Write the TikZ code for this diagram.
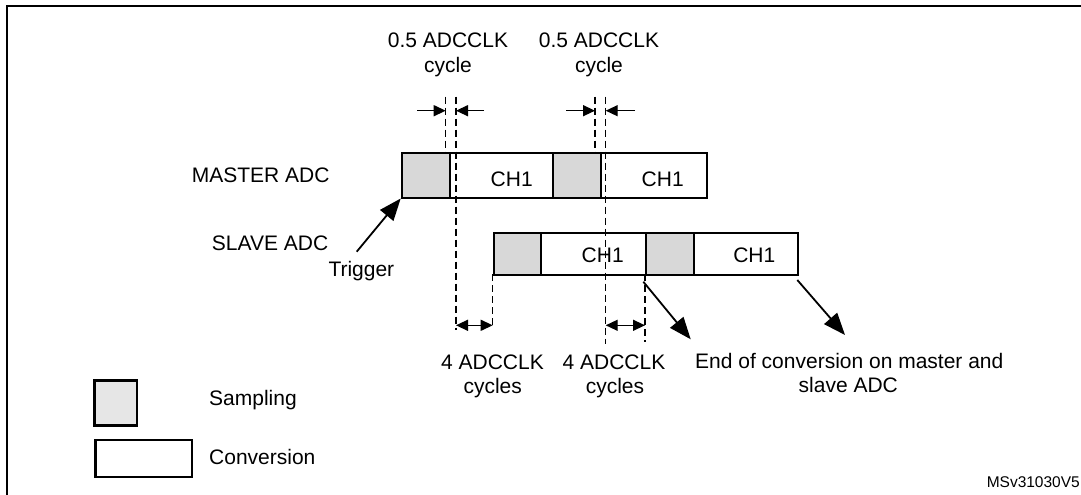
\documentclass[tikz,border=0pt]{standalone}
\usepackage{fontspec}
\setmainfont{Liberation Sans}
\usetikzlibrary{arrows.meta}
\definecolor{sampgray}{RGB}{216,216,216}
\definecolor{leggray}{RGB}{230,230,230}
\tikzset{
  bar/.style={draw=black, line width=1.8pt, inner sep=0pt, anchor=north west},
  sampbox/.style={bar, fill=sampgray},
  convbox/.style={bar, fill=white},
  lbl/.style={inner sep=0pt, font=\fontsize{21}{25}\selectfont, anchor=base},
  lbll/.style={lbl, anchor=base west},
  dashline/.style={line width=1.4pt, dash pattern=on 7pt off 4pt},
  dimarrow/.style={line width=1.4pt, -{Triangle[length=12pt,width=11pt]}},
  dimboth/.style={line width=1.4pt, {Triangle[length=12pt,width=11pt]}-{Triangle[length=12pt,width=11pt]}},
  bigarrow/.style={line width=1.8pt, -{Triangle[length=22pt,width=17pt]}},
}
\begin{document}
\begin{tikzpicture}[x=1pt,y=-1pt]
\useasboundingbox (0,0) rectangle (1081,495);
% frame
\coordinate (ftr) at (1081,5.7);
\coordinate (ftl) at (7.3,5.7);
\coordinate (fbl) at (7.3,495);
\draw[line width=2pt] (ftr) -- (ftl) -- (fbl);

% master bar
\node[sampbox, minimum width=48.6pt, minimum height=45pt] (ms1) at (400.7,151.7) {};
\node[convbox, minimum width=102.4pt, minimum height=45pt] (mc1) at (449.3,151.7) {};
\node[sampbox, minimum width=48.3pt, minimum height=45pt] (ms2) at (551.7,151.7) {};
\node[convbox, minimum width=105.7pt, minimum height=45pt] (mc2) at (600,151.7) {};
% slave bar
\node[sampbox, minimum width=47.3pt, minimum height=42.3pt] (ss1) at (492.7,231.7) {};
\node[convbox, minimum width=105pt, minimum height=42.3pt] (sc1) at (540,231.7) {};
\node[sampbox, minimum width=47.7pt, minimum height=42.3pt] (ss2) at (645,231.7) {};
\node[convbox, minimum width=104.6pt, minimum height=42.3pt] (sc2) at (692.7,231.7) {};

% dashed guide lines
\coordinate (d1t) at (445.7,96.7); \coordinate (d1b) at (445.7,151.7);
\coordinate (d2t) at (456,96.7);   \coordinate (d2b) at (456,330);
\coordinate (d3t) at (595,96.7);   \coordinate (d3b) at (595,151.7);
\coordinate (d4t) at (605.7,96.7); \coordinate (d4b) at (605.7,344);
\coordinate (d5t) at (492.7,274);  \coordinate (d5b) at (492.7,327);
\coordinate (d6t) at (645,274);    \coordinate (d6b) at (645,342);
\draw[dashline] (d1t) -- (d1b);
\draw[dashline] (d2t) -- (d2b);
\draw[dashline] (d3t) -- (d3b);
\draw[dashline] (d4t) -- (d4b);
\draw[dashline] (d5t) -- (d5b);
\draw[dashline] (d6t) -- (d6b);

% CH1 labels
\node[lbl] (m1t) at (511.7,186) {CH1};
\node[lbl] (m2t) at (662.7,186) {CH1};
\node[lbl] (s1t) at (602.7,262.7) {CH1};
\node[lbl] (s2t) at (754.3,262.7) {CH1};

% 0.5 ADCCLK dimension arrows
\coordinate (a1s) at (417,110.7);  \coordinate (a1e) at (445.7,110.7);
\coordinate (a2s) at (484,110.7);  \coordinate (a2e) at (456,110.7);
\coordinate (a3s) at (566,110.7);  \coordinate (a3e) at (595,110.7);
\coordinate (a4s) at (635,110.7);  \coordinate (a4e) at (605.7,110.7);
\draw[dimarrow] (a1s) -- (a1e);
\draw[dimarrow] (a2s) -- (a2e);
\draw[dimarrow] (a3s) -- (a3e);
\draw[dimarrow] (a4s) -- (a4e);

% 4 ADCCLK dimension arrows
\coordinate (b1s) at (456,325.3);   \coordinate (b1e) at (492.7,325.3);
\coordinate (b2s) at (605.7,325.3); \coordinate (b2e) at (645,325.3);
\draw[dimboth] (b1s) -- (b1e);
\draw[dimboth] (b2s) -- (b2e);

% labels top
\node[lbl] (h1a) at (448,47.3) {0.5 ADCCLK};
\node[lbl] (h1b) at (448,72.7) {cycle};
\node[lbl] (h2a) at (599,47.3) {0.5 ADCCLK};
\node[lbl] (h2b) at (599,72.7) {cycle};

% row labels
\node[lbll] (mast) at (191.7,182.7) {MASTER ADC};
\node[lbll] (slav) at (211.7,250.7) {SLAVE ADC};
\node[lbll] (trig) at (328.3,276.7) {Trigger};

% trigger arrow
\coordinate (trs) at (356.7,251.7);
\draw[bigarrow] (trs) -- (ms1.south west);

% end of conversion arrows
\coordinate (e1s) at (643.3,281.7); \coordinate (e1e) at (690.7,339.3);
\coordinate (e2s) at (797.3,280);   \coordinate (e2e) at (845,335);
\draw[bigarrow] (e1s) -- (e1e);
\draw[bigarrow] (e2s) -- (e2e);

% bottom labels
\node[lbl] (c1a) at (492.5,369) {4 ADCCLK};
\node[lbl] (c1b) at (492.7,393.3) {cycles};
\node[lbl] (c2a) at (614,369) {4 ADCCLK};
\node[lbl] (c2b) at (615,393.3) {cycles};
\node[lbl] (eoca) at (849.3,368.3) {End of conversion on master and};
\node[lbl] (eocb) at (848.3,392.3) {slave ADC};

% legend
\node[bar, fill=leggray, line width=2.2pt, minimum width=42.7pt, minimum height=45pt] (legs) at (93.3,379.3) {};
\node[bar, fill=white, line width=2.2pt, minimum width=96.4pt, minimum height=37pt] (legc) at (94.3,439) {};
\node[lbll] (legst) at (209,405.7) {Sampling};
\node[lbll] (legct) at (209,464) {Conversion};

% id
\node[inner sep=0pt, anchor=base east, font=\fontsize{15.5}{18}\selectfont] (ident) at (1080,487.3) {MSv31030V5};
\end{tikzpicture}
\end{document}
